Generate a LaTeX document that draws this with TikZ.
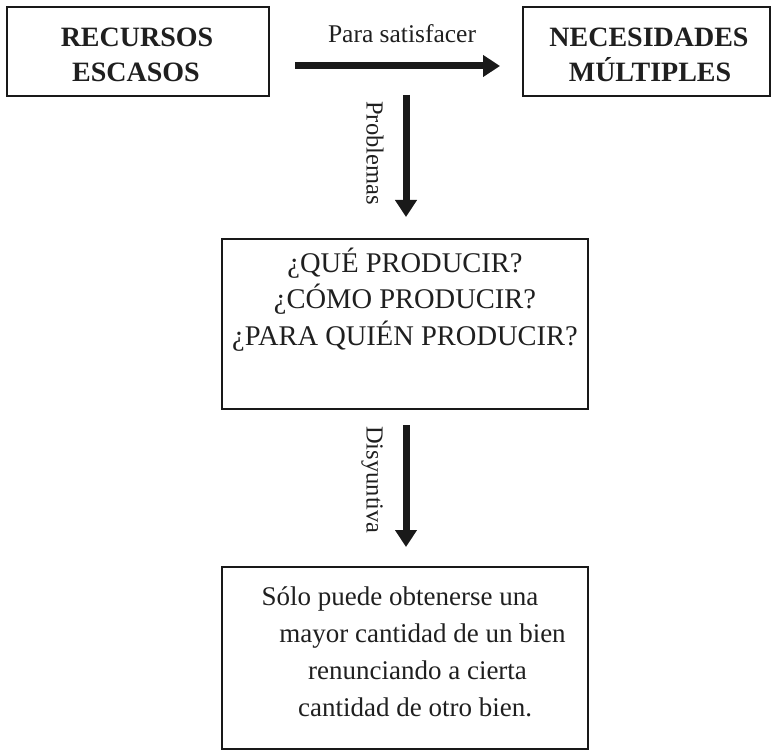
\documentclass[tikz,border=0pt]{standalone}
\usepackage{fontspec}
\setmainfont{Liberation Serif}
\usetikzlibrary{arrows.meta}
\tikzset{
  box/.style={draw=black!90, line width=2.4pt, inner sep=0pt, outer sep=0pt},
  boxtext/.style={font=\bfseries\fontsize{28}{35}\selectfont, anchor=base, inner sep=0pt, text=black!88},
  qtext/.style={font=\fontsize{28.5}{37}\selectfont, anchor=base, inner sep=0pt, text=black!88},
  btext/.style={font=\fontsize{27}{37}\selectfont, anchor=base, inner sep=0pt, text=black!88},
  lbl/.style={font=\fontsize{24.5}{30}\selectfont, inner sep=0pt, text=black!88},
  arr/.style={draw=black!90, line width=7pt, -{Triangle[width=21pt,length=17pt]}}
}
\begin{document}
\begin{tikzpicture}[x=1pt,y=-1pt]
\useasboundingbox (0,0) rectangle (778,751);
% boxes
\node[box, minimum width=262pt, minimum height=89pt] (r) at (138,51.5) {};
\node[box, minimum width=247pt, minimum height=89pt] (n) at (646.5,51.5) {};
\node[box, minimum width=366pt, minimum height=170pt] (q) at (405,324) {};
\node[box, minimum width=366pt, minimum height=182pt] (s) at (405,658) {};
% texts
\node[boxtext] (r1) at (137,47) {RECURSOS};
\node[boxtext] (r2) at (136,82) {ESCASOS};
\node[boxtext] (n1) at (649,47) {NECESIDADES};
\node[boxtext] (n2) at (650,82) {MÚLTIPLES};
\node[lbl, font=\fontsize{25.5}{30}\selectfont, anchor=base] (ps) at (402,43) {Para satisfacer};
\node[qtext] (q1) at (405,272) {¿QUÉ PRODUCIR?};
\node[qtext] (q2) at (405,308) {¿CÓMO PRODUCIR?};
\node[qtext] (q3) at (405,345) {¿PARA QUIÉN PRODUCIR?};
\node[btext] (s1) at (400,605) {Sólo puede obtenerse una};
\node[btext] (s2) at (422.5,642) {mayor cantidad de un bien};
\node[btext] (s3) at (417.5,679) {renunciando a cierta};
\node[btext] (s4) at (415,716) {cantidad de otro bien.};
% connectors
\coordinate (h1) at ([xshift=26pt,yshift=-14.5pt]r.east);
\coordinate (h2) at ([xshift=-23pt,yshift=-14.5pt]n.west);
\draw[arr] (h1) -- (h2);
\coordinate (p1) at (406,95);
\draw[arr, shorten >=22pt] (p1) -- (p1 |- q.north);
\draw[arr, shorten <=16pt, shorten >=20pt] (q.south -| p1) -- (s.north -| p1);
\node[lbl, rotate=-90] (pl) at (375,153) {Problemas};
\node[lbl, rotate=-90] (dl) at (372,480) {Disyuntiva};
\end{tikzpicture}
\end{document}
